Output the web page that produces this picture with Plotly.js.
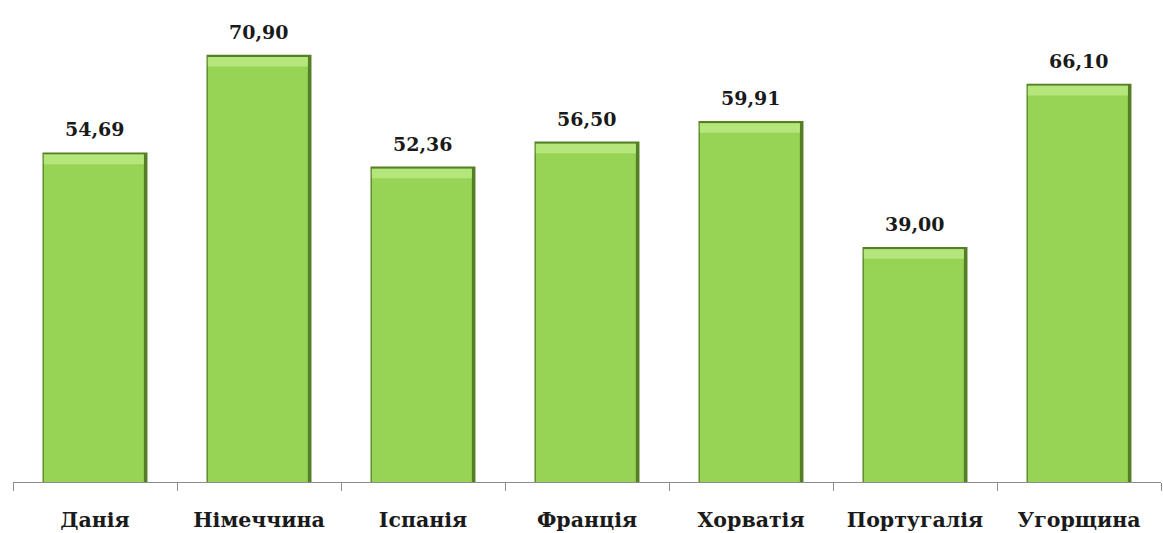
<!DOCTYPE html>
<html><head><meta charset="utf-8">
<script src="https://cdn.plot.ly/plotly-3.0.1.min.js"></script>
<style>html,body{margin:0;padding:0;background:#fff}</style>
</head><body>
<div id="chart" style="width:1163px;height:533px"></div>
<script>
const categories = ["Данія","Німеччина","Іспанія","Франція","Хорватія","Португалія","Угорщина"];
const values = [54.69, 70.90, 52.36, 56.50, 59.91, 39.00, 66.10];

const serif = "DejaVu Serif";
const bevel = 1.6;
const traces = [
  {type:'bar', x:categories, y:values, width:0.64, marker:{color:'#557f27'}, hoverinfo:'skip'},
  {type:'bar', x:categories, y:values.map(v=>v-0.35), width:0.61, offset:-0.312, marker:{color:'#97d455'}, hoverinfo:'skip'},
  {type:'bar', x:categories, base:values.map(v=>v-0.35-bevel), y:values.map(()=>bevel), width:0.61, offset:-0.312, marker:{color:'#b4e67c'}, hoverinfo:'skip'}
];
const annotations = categories.map((c,i)=>({
  x:c, y:values[i], text:'<b>'+values[i].toFixed(2).replace('.', ',')+'</b>', showarrow:false,
  yanchor:'bottom', yshift:10,
  font:{family:serif, size:19, color:'#1a1a1a'}
}));
const layout = {
  width:1163, height:533,
  font:{family:serif},
  margin:{l:13, r:2, t:0, b:51},
  barmode:'overlay',
  showlegend:false,
  plot_bgcolor:'#fff', paper_bgcolor:'#fff',
  xaxis:{type:'category', range:[-0.5,6.5], showline:true, linecolor:'#8c8c8c', linewidth:1,
    ticks:'outside', tickson:'boundaries', ticklen:8, tickcolor:'#8c8c8c',
    tickfont:{family:serif, size:20.5, color:'#1a1a1a'},
    tickvals:categories, ticktext:categories.map(c=>'<b>'+c+'</b>'),
    ticklabelstandoff:19, showgrid:false, zeroline:false, fixedrange:true},
  yaxis:{range:[0,80], visible:false, showgrid:false, zeroline:false, fixedrange:true},
  annotations:annotations
};
Plotly.newPlot('chart', traces, layout, {displayModeBar:false, staticPlot:true});
</script>
</body></html>
